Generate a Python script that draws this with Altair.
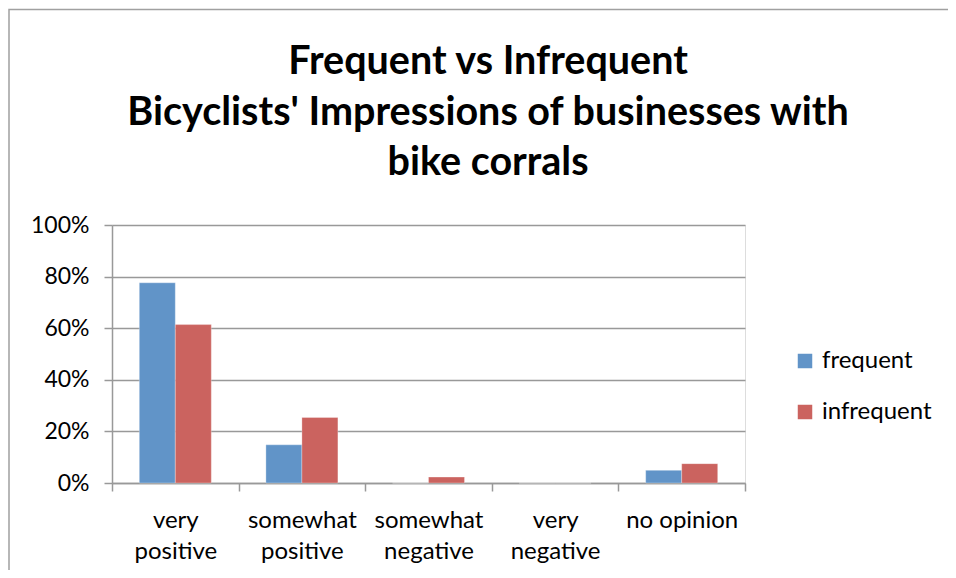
import altair as alt
import pandas as pd

categories = ["very positive", "somewhat positive", "somewhat negative", "very negative", "no opinion"]
frequent = [0.776, 0.148, 0.0, 0.0, 0.049]
infrequent = [0.614, 0.254, 0.023, 0.0, 0.075]
series = ["frequent", "infrequent"]
colors = ["#6194C8", "#CB635F"]
title_lines = ["Frequent vs Infrequent", "Bicyclists' Impressions of businesses with", "bike corrals"]

rows = []
for c, f, i in zip(categories, frequent, infrequent):
    rows.append({"category": c, "group": "frequent", "value": f})
    rows.append({"category": c, "group": "infrequent", "value": i})
df = pd.DataFrame(rows)

FONT = "Lato"
W, H = 633, 258

bars = alt.Chart(df).mark_bar(stroke="white", strokeWidth=0.5, strokeOpacity=0.6).encode(
    x=alt.X("category:N", sort=categories, title=None,
            scale=alt.Scale(paddingInner=0, paddingOuter=0),
            axis=alt.Axis(labelAngle=0, tickBand="extent", grid=False,
                          domainColor="#999999", domainWidth=1.5,
                          tickColor="#999999", tickWidth=1.5, tickSize=8,
                          labelFont=FONT, labelFontSize=24, labelColor="#000000",
                          labelPadding=17, labelLineHeight=31, labelBaseline="top",
                          labelExpr="datum.label == 'no opinion' ? datum.label : split(datum.label, ' ')")),
    xOffset=alt.XOffset("group:N", sort=series,
                        scale=alt.Scale(paddingInner=0, paddingOuter=0.758)),
    y=alt.Y("value:Q", title=None,
            scale=alt.Scale(domain=[0, 1], nice=False),
            axis=alt.Axis(format=".0%", values=[0, 0.2, 0.4, 0.6, 0.8, 1.0],
                          grid=True, gridColor="#999999", gridWidth=1.5,
                          domainColor="#999999", domainWidth=1.5,
                          tickColor="#999999", tickWidth=1.5, tickSize=8,
                          labelFont=FONT, labelFontSize=23, labelColor="#000000",
                          labelPadding=15)),
    color=alt.Color("group:N", sort=series, title=None,
                    scale=alt.Scale(domain=series, range=colors),
                    legend=alt.Legend(orient="none", legendX=681, legendY=124,
                                      symbolType="square", symbolSize=210,
                                      symbolStrokeWidth=0,
                                      labelFont=FONT, labelFontSize=24, labelColor="#000000",
                                      rowPadding=27, labelOffset=5)),
)

one = pd.DataFrame({"k": [0]})

border = alt.Chart(one).mark_rect(
    fill=None, stroke="#a0a0a0", strokeWidth=1.5
).encode(
    x=alt.value(-103), x2=alt.value(W + 260),
    y=alt.value(-215.5), y2=alt.value(H + 160),
)

title = alt.Chart(one).mark_text(
    font=FONT, fontSize=39.5, fontWeight="bold", color="#000000",
    align="center", baseline="alphabetic", lineHeight=50.5,
).encode(
    x=alt.value(376), y=alt.value(-151),
    text=alt.value(title_lines),
)

chart = alt.layer(border, title, bars).properties(
    width=W, height=H,
    autosize=alt.AutoSizeParams(type="none"),
    padding={"left": 104, "top": 217, "right": 203, "bottom": 87},
).configure_view(stroke=None).configure(background="white")

chart.save("out.html", embed_options={"renderer": "svg", "actions": False})
